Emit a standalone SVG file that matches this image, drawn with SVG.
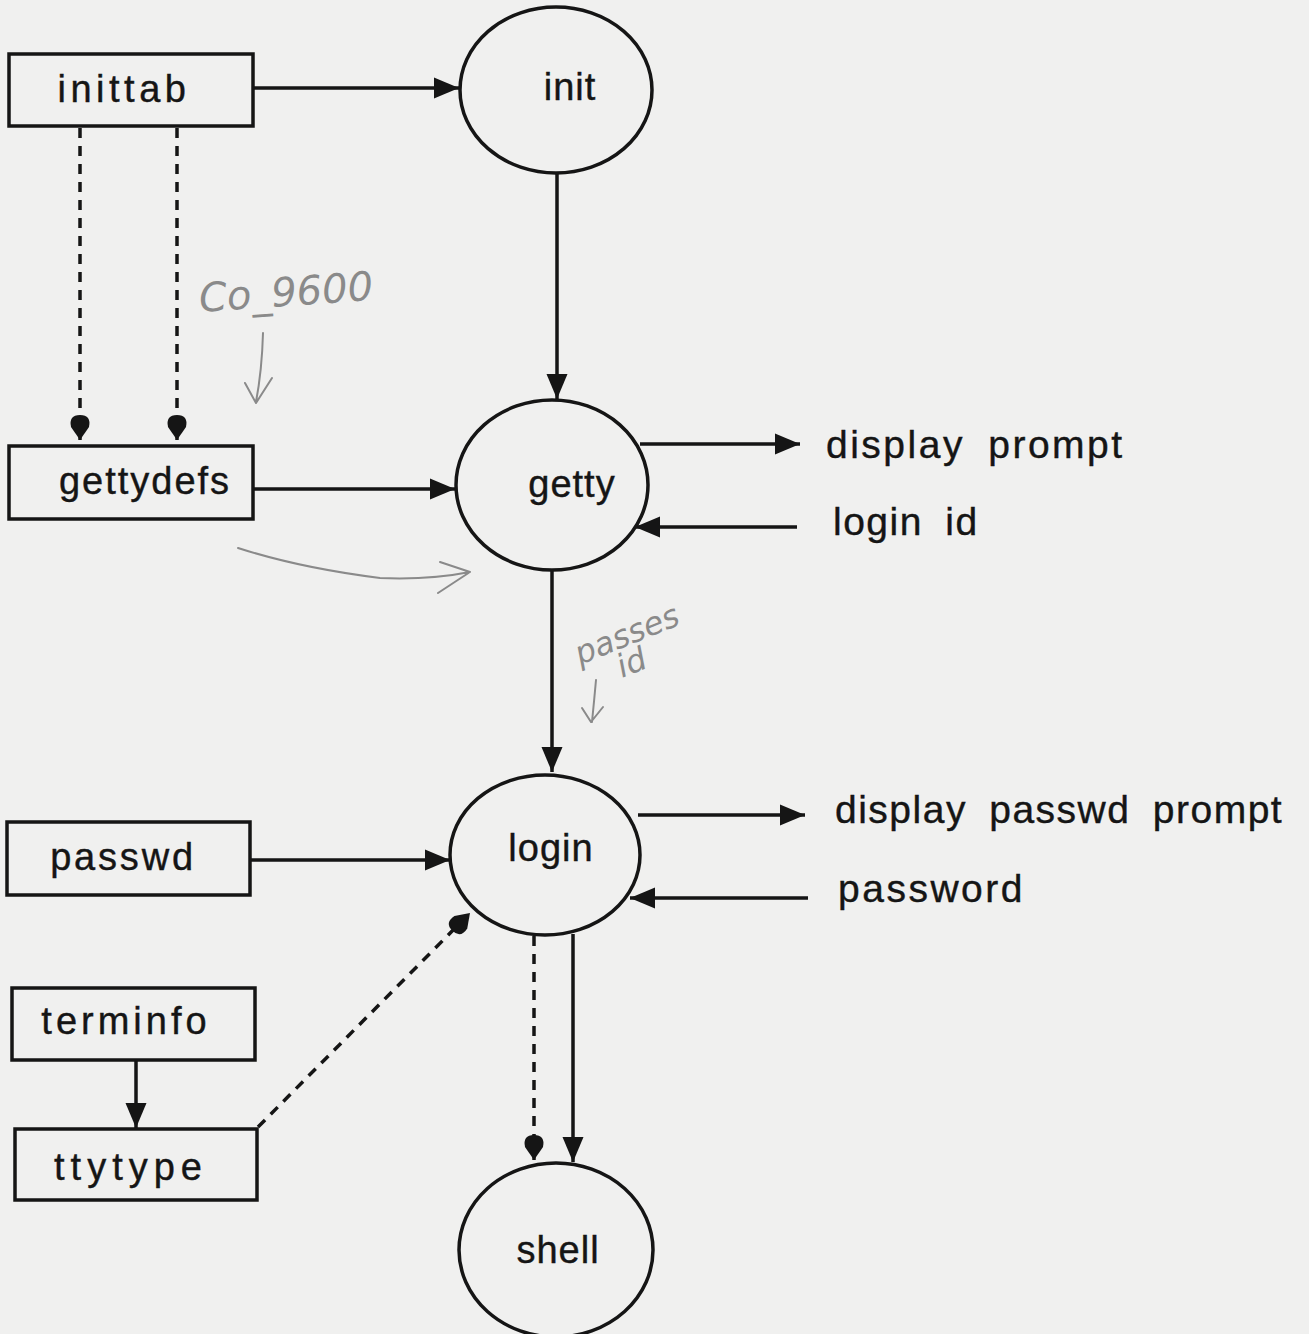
<svg xmlns="http://www.w3.org/2000/svg" width="1309" height="1334" viewBox="0 0 1309 1334">
<style>
.box{fill:none;stroke:#151515;stroke-width:3.5}
.ell{fill:none;stroke:#151515;stroke-width:3.5}
.lbl{font-family:"Liberation Sans",Arial,sans-serif;font-size:38px;fill:#151515;stroke:#151515;stroke-width:0.4px;letter-spacing:2px}
.node{letter-spacing:1px}
.side{font-family:"Liberation Sans",Arial,sans-serif;font-size:39px;fill:#151515;stroke:#151515;stroke-width:0.4px;letter-spacing:1.5px;word-spacing:10px}
.con{fill:none;stroke:#151515;stroke-width:3.5}
.dash{stroke-dasharray:10 8}
.hand{font-family:"DejaVu Sans",sans-serif;font-weight:200;fill:#8a8a8a;font-style:italic}
.hl{fill:none;stroke:#8a8a8a;stroke-width:2;stroke-linecap:round;stroke-linejoin:round}
</style>
<defs>
<marker id="tri" markerUnits="userSpaceOnUse" markerWidth="28" markerHeight="24" refX="25" refY="10.5" orient="auto" overflow="visible">
<path d="M0,0 L25,10.5 L0,21 Z" fill="#151515"/>
</marker>
<marker id="drop" markerUnits="userSpaceOnUse" markerWidth="28" markerHeight="24" refX="25" refY="10.5" orient="auto" overflow="visible">
<path d="M25,10.5 L12,1.5 Q0,-1 0,10.5 Q0,22 12,19.5 Z" fill="#151515"/>
</marker>
</defs>
<rect width="1309" height="1334" fill="#f0f0ef"/>
<g id="connectors">
<line class="con" x1="253" y1="88" x2="459" y2="88" marker-end="url(#tri)"/>
<line class="con" x1="557" y1="174" x2="557" y2="399" marker-end="url(#tri)"/>
<line class="con dash" x1="80" y1="128" x2="80" y2="440" marker-end="url(#drop)"/>
<line class="con dash" x1="177" y1="128" x2="177" y2="440" marker-end="url(#drop)"/>
<line class="con" x1="253" y1="489" x2="455" y2="489" marker-end="url(#tri)"/>
<line class="con" x1="640" y1="444" x2="800" y2="444" marker-end="url(#tri)"/>
<line class="con" x1="797" y1="527" x2="635" y2="527" marker-end="url(#tri)"/>
<line class="con" x1="552" y1="570" x2="552" y2="772" marker-end="url(#tri)"/>
<line class="con" x1="250" y1="860" x2="450" y2="860" marker-end="url(#tri)"/>
<line class="con" x1="638" y1="815" x2="805" y2="815" marker-end="url(#tri)"/>
<line class="con" x1="808" y1="898" x2="630" y2="898" marker-end="url(#tri)"/>
<line class="con dash" x1="534" y1="936" x2="534" y2="1160" marker-end="url(#drop)"/>
<line class="con" x1="573" y1="934" x2="573" y2="1162" marker-end="url(#tri)"/>
<line class="con" x1="136" y1="1060" x2="136" y2="1128" marker-end="url(#tri)"/>
<line class="con dash" x1="258" y1="1127" x2="470" y2="913" marker-end="url(#drop)"/>
</g>
<g id="inittab"><rect class="box" x="9" y="54" width="244" height="72"/><text class="lbl" x="124" y="102" text-anchor="middle" style="letter-spacing:4.5px">inittab</text></g>
<g id="gettydefs"><rect class="box" x="9" y="446" width="244" height="73"/><text class="lbl" x="145" y="494" text-anchor="middle">gettydefs</text></g>
<g id="passwd"><rect class="box" x="7" y="822" width="243" height="73"/><text class="lbl" x="123" y="870" text-anchor="middle" style="letter-spacing:2.8px">passwd</text></g>
<g id="terminfo"><rect class="box" x="12" y="988" width="243" height="72"/><text class="lbl" x="126" y="1034" text-anchor="middle" style="letter-spacing:4px">terminfo</text></g>
<g id="ttytype"><rect class="box" x="15" y="1129" width="242" height="71"/><text class="lbl" x="131" y="1180" text-anchor="middle" style="letter-spacing:6px">ttytype</text></g>
<g id="init"><ellipse class="ell" cx="556" cy="90" rx="96" ry="83"/><text class="lbl node" x="570" y="100" text-anchor="middle">init</text></g>
<g id="getty"><ellipse class="ell" cx="552" cy="485" rx="96" ry="85"/><text class="lbl node" x="572" y="497" text-anchor="middle">getty</text></g>
<g id="login"><ellipse class="ell" cx="545" cy="855" rx="95" ry="80"/><text class="lbl node" x="551" y="861" text-anchor="middle">login</text></g>
<g id="shell"><ellipse class="ell" cx="556" cy="1250" rx="97" ry="87"/><text class="lbl node" x="558" y="1263" text-anchor="middle">shell</text></g>
<g id="labels">
<text class="side" x="826" y="458" style="letter-spacing:2.5px">display  prompt</text>
<text class="side" x="833" y="535">login  id</text>
<text class="side" x="835" y="823">display  passwd  prompt</text>
<text class="side" x="838" y="902" style="letter-spacing:2.5px">password</text>
</g>
<g id="annotations">
<text class="hand" x="200" y="312" font-size="40" transform="rotate(-4 200 312)">Co_9600</text>
<path class="hl" d="M263,333 Q262,370 256,402 M245,383 L256,403 L272,378"/>
<path class="hl" d="M238,548 Q300,568 380,578 Q430,580 470,572 M440,562 L470,572 L438,593"/>
<text class="hand" x="580" y="665" font-size="32" transform="rotate(-22 580 665)">passes</text>
<text class="hand" x="622" y="678" font-size="32" transform="rotate(-22 622 678)">id</text>
<path class="hl" d="M596,680 Q594,702 592,722 M582,708 L591,722 L603,707"/>
</g>
</svg>
